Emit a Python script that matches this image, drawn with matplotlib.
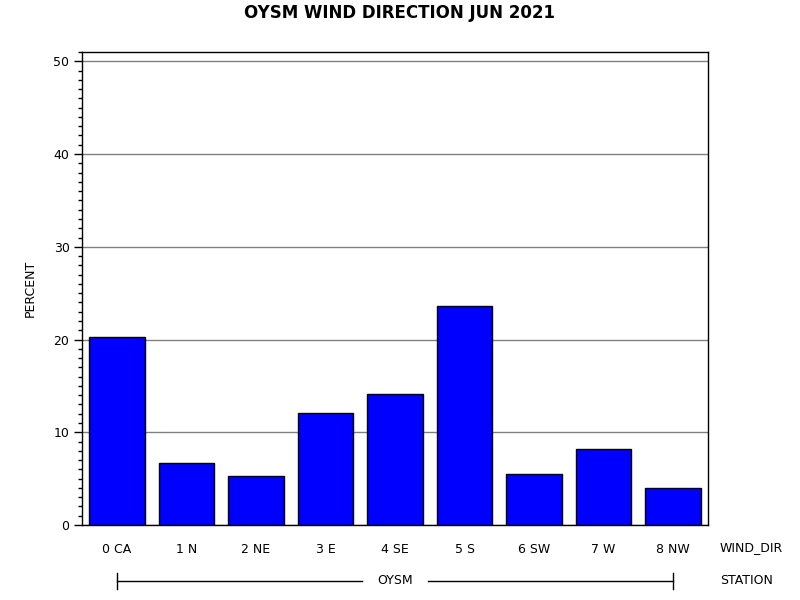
import numpy as np
import matplotlib.pyplot as plt
from matplotlib.ticker import MultipleLocator
from matplotlib.transforms import blended_transform_factory

plt.rcParams["font.family"] = "DejaVu Sans"

wind_dir = ['0 CA', '1 N', '2 NE', '3 E', '4 SE', '5 S', '6 SW', '7 W', '8 NW']
percent = [20.3, 6.7, 5.3, 12.1, 14.1, 23.6, 5.5, 8.2, 4.0]
station = 'OYSM'

fig = plt.figure(figsize=(8, 6), dpi=100)
ax = fig.add_axes([0.1025, 0.125, 0.7825, 0.7883])

x = np.arange(len(wind_dir))
ax.bar(x, percent, width=0.8, color='#0000ff', edgecolor='black', linewidth=1.0, zorder=3)

ax.set_xlim(-0.5, len(wind_dir) - 0.5)
ax.set_ylim(0, 51)
ax.yaxis.set_major_locator(MultipleLocator(10))
ax.yaxis.set_minor_locator(MultipleLocator(1))
ax.grid(axis='y', color='#808080', linewidth=1, zorder=1)
ax.tick_params(axis='y', which='major', length=6, width=1, labelsize=9, pad=3)
ax.tick_params(axis='y', which='minor', length=3, width=1)
ax.set_xticks(x)
ax.set_xticklabels(wind_dir, fontsize=9)
ax.tick_params(axis='x', length=0, pad=13)
for s in ax.spines.values():
    s.set_linewidth(1)

ax.set_ylabel('PERCENT', fontsize=9, labelpad=12)
fig.suptitle('OYSM WIND DIRECTION JUN 2021', fontsize=12, fontweight='bold', y=0.993)

# group axis labels at right
fig.text(0.9, 1 - 548 / 600, 'WIND_DIR', fontsize=9, va='center', ha='left')
fig.text(0.9, 1 - 581 / 600, 'STATION', fontsize=9, va='center', ha='left')

# station bracket under the categories
tr = blended_transform_factory(ax.transData, fig.transFigure)
yline = 1 - 581 / 600
mid = (x[0] + x[-1]) / 2
ax.plot([x[0], mid - 0.47], [yline, yline], color='black', lw=1, transform=tr, clip_on=False)
ax.plot([mid + 0.47, x[-1]], [yline, yline], color='black', lw=1, transform=tr, clip_on=False)
for xe in (x[0], x[-1]):
    ax.plot([xe, xe], [yline - 8 / 600, yline + 8 / 600], color='black', lw=1,
            transform=tr, clip_on=False)
ax.text(mid, yline, station, fontsize=9, ha='center', va='center', transform=tr)

fig.savefig('out.png', dpi=100)
